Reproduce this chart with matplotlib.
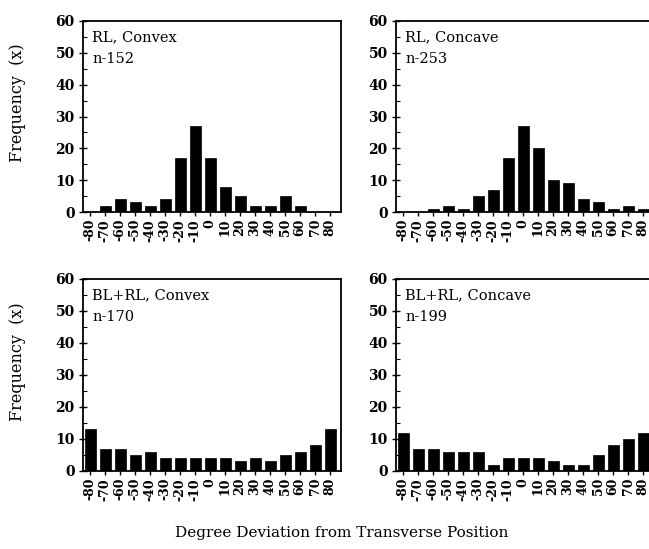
import matplotlib
matplotlib.use("Agg")
import matplotlib.pyplot as plt
from matplotlib.ticker import MultipleLocator

plt.rcParams['font.family'] = ['DejaVu Serif']

categories = [-80, -70, -60, -50, -40, -30, -20, -10, 0, 10, 20, 30, 40, 50, 60, 70, 80]
tick_labels = [str(c) for c in categories]

rl_convex = [0, 2, 4, 3, 2, 4, 17, 27, 17, 8, 5, 2, 2, 5, 2, 0, 0]
rl_concave = [0, 0, 1, 2, 1, 5, 7, 17, 27, 20, 10, 9, 4, 3, 1, 2, 1]
blrl_convex = [13, 7, 7, 5, 6, 4, 4, 4, 4, 4, 3, 4, 3, 5, 6, 8, 13]
blrl_concave = [12, 7, 7, 6, 6, 6, 2, 4, 4, 4, 3, 2, 2, 5, 8, 10, 12]

panel_titles = ["RL, Convex", "RL, Concave", "BL+RL, Convex", "BL+RL, Concave"]
panel_n = ["n-152", "n-253", "n-170", "n-199"]
panel_data = [rl_convex, rl_concave, blrl_convex, blrl_concave]

W, H = 649, 549
fig = plt.figure(figsize=(W / 100, H / 100), dpi=100)

def px_axes(left, top, right, bottom):
    return fig.add_axes([left / W, 1 - bottom / H, (right - left) / W, (bottom - top) / H])

boxes = [(83, 21, 341, 212), (396, 21, 654, 212), (83, 279, 341, 471), (396, 279, 654, 471)]

for box, title, n, data in zip(boxes, panel_titles, panel_n, panel_data):
    ax = px_axes(*box)
    ax.bar(categories, data, width=7.3, color='black', edgecolor='black', linewidth=0.5)
    ax.set_xlim(-84.7, 87.3)
    ax.set_ylim(0, 60)
    ax.set_xticks(categories)
    ax.set_xticklabels(tick_labels, rotation=90, fontsize=9, fontweight='bold')
    ax.set_yticks(range(0, 61, 10))
    ax.yaxis.set_minor_locator(MultipleLocator(5))
    ax.tick_params(axis='y', which='major', direction='inout', length=6, width=1, labelsize=10, pad=3)
    ax.tick_params(axis='y', which='minor', direction='in', length=3, width=0.8)
    ax.tick_params(axis='x', which='major', direction='out', length=3, width=1, pad=2)
    for lab in ax.get_yticklabels():
        lab.set_fontweight('bold')
    for s in ax.spines.values():
        s.set_linewidth(1.3)
    ax.text(0.035, 0.95, title, transform=ax.transAxes, fontsize=10.5, va='top', ha='left')
    ax.text(0.035, 0.84, n, transform=ax.transAxes, fontsize=10.5, va='top', ha='left')

fig.text(18 / W, 1 - 103 / H, "Frequency  (x)", rotation=90, ha='center', va='center', fontsize=11.5)
fig.text(18 / W, 1 - 362 / H, "Frequency  (x)", rotation=90, ha='center', va='center', fontsize=11.5)
fig.text(342 / W, 1 - 533 / H, "Degree Deviation from Transverse Position", ha='center', va='center', fontsize=11)

fig.savefig("out.png", dpi=100)
